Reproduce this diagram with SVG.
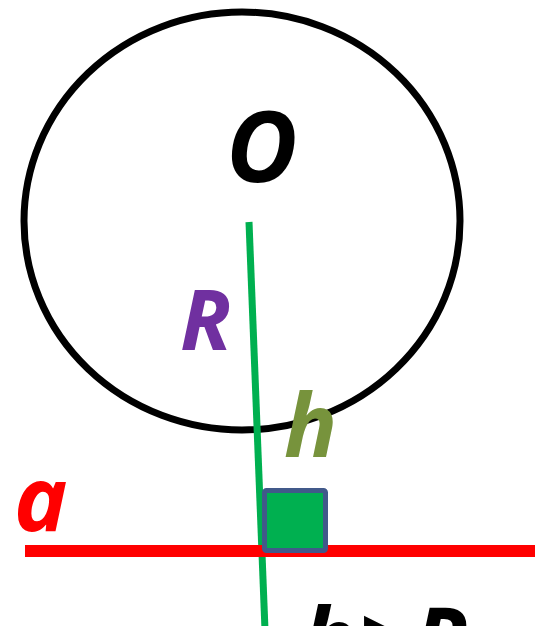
<svg xmlns="http://www.w3.org/2000/svg" width="545" height="626" viewBox="0 0 545 626">
<style>
.t{font-family:"Open Sans","DejaVu Sans",sans-serif;font-weight:bold;font-style:italic}
</style>
<rect width="545" height="626" fill="#fff"/>
<g id="circle"><ellipse cx="242" cy="221" rx="218" ry="209" fill="none" stroke="#000" stroke-width="7"/></g>
<g id="connectors">
<line x1="249" y1="222" x2="265" y2="630" stroke="#00B050" stroke-width="7"/>
<line x1="25" y1="551" x2="535" y2="551" stroke="#FF0000" stroke-width="12"/>
</g>
<g id="square"><rect x="264.5" y="490.5" width="61" height="60" rx="2" fill="#00B050" stroke="#41598A" stroke-width="5"/></g>
<text class="t" x="226" y="182" font-size="98" fill="#000">O</text>
<text class="t" x="180" y="350" font-size="84" fill="#7030A0">R</text>
<text class="t" x="284" y="457" font-size="88" fill="#77933C">h</text>
<text class="t" x="14" y="531" font-size="90" fill="#FF0000">a</text>
<text class="t" x="302" y="672" font-size="90" letter-spacing="3" fill="#000">h&gt;R</text>
</svg>
